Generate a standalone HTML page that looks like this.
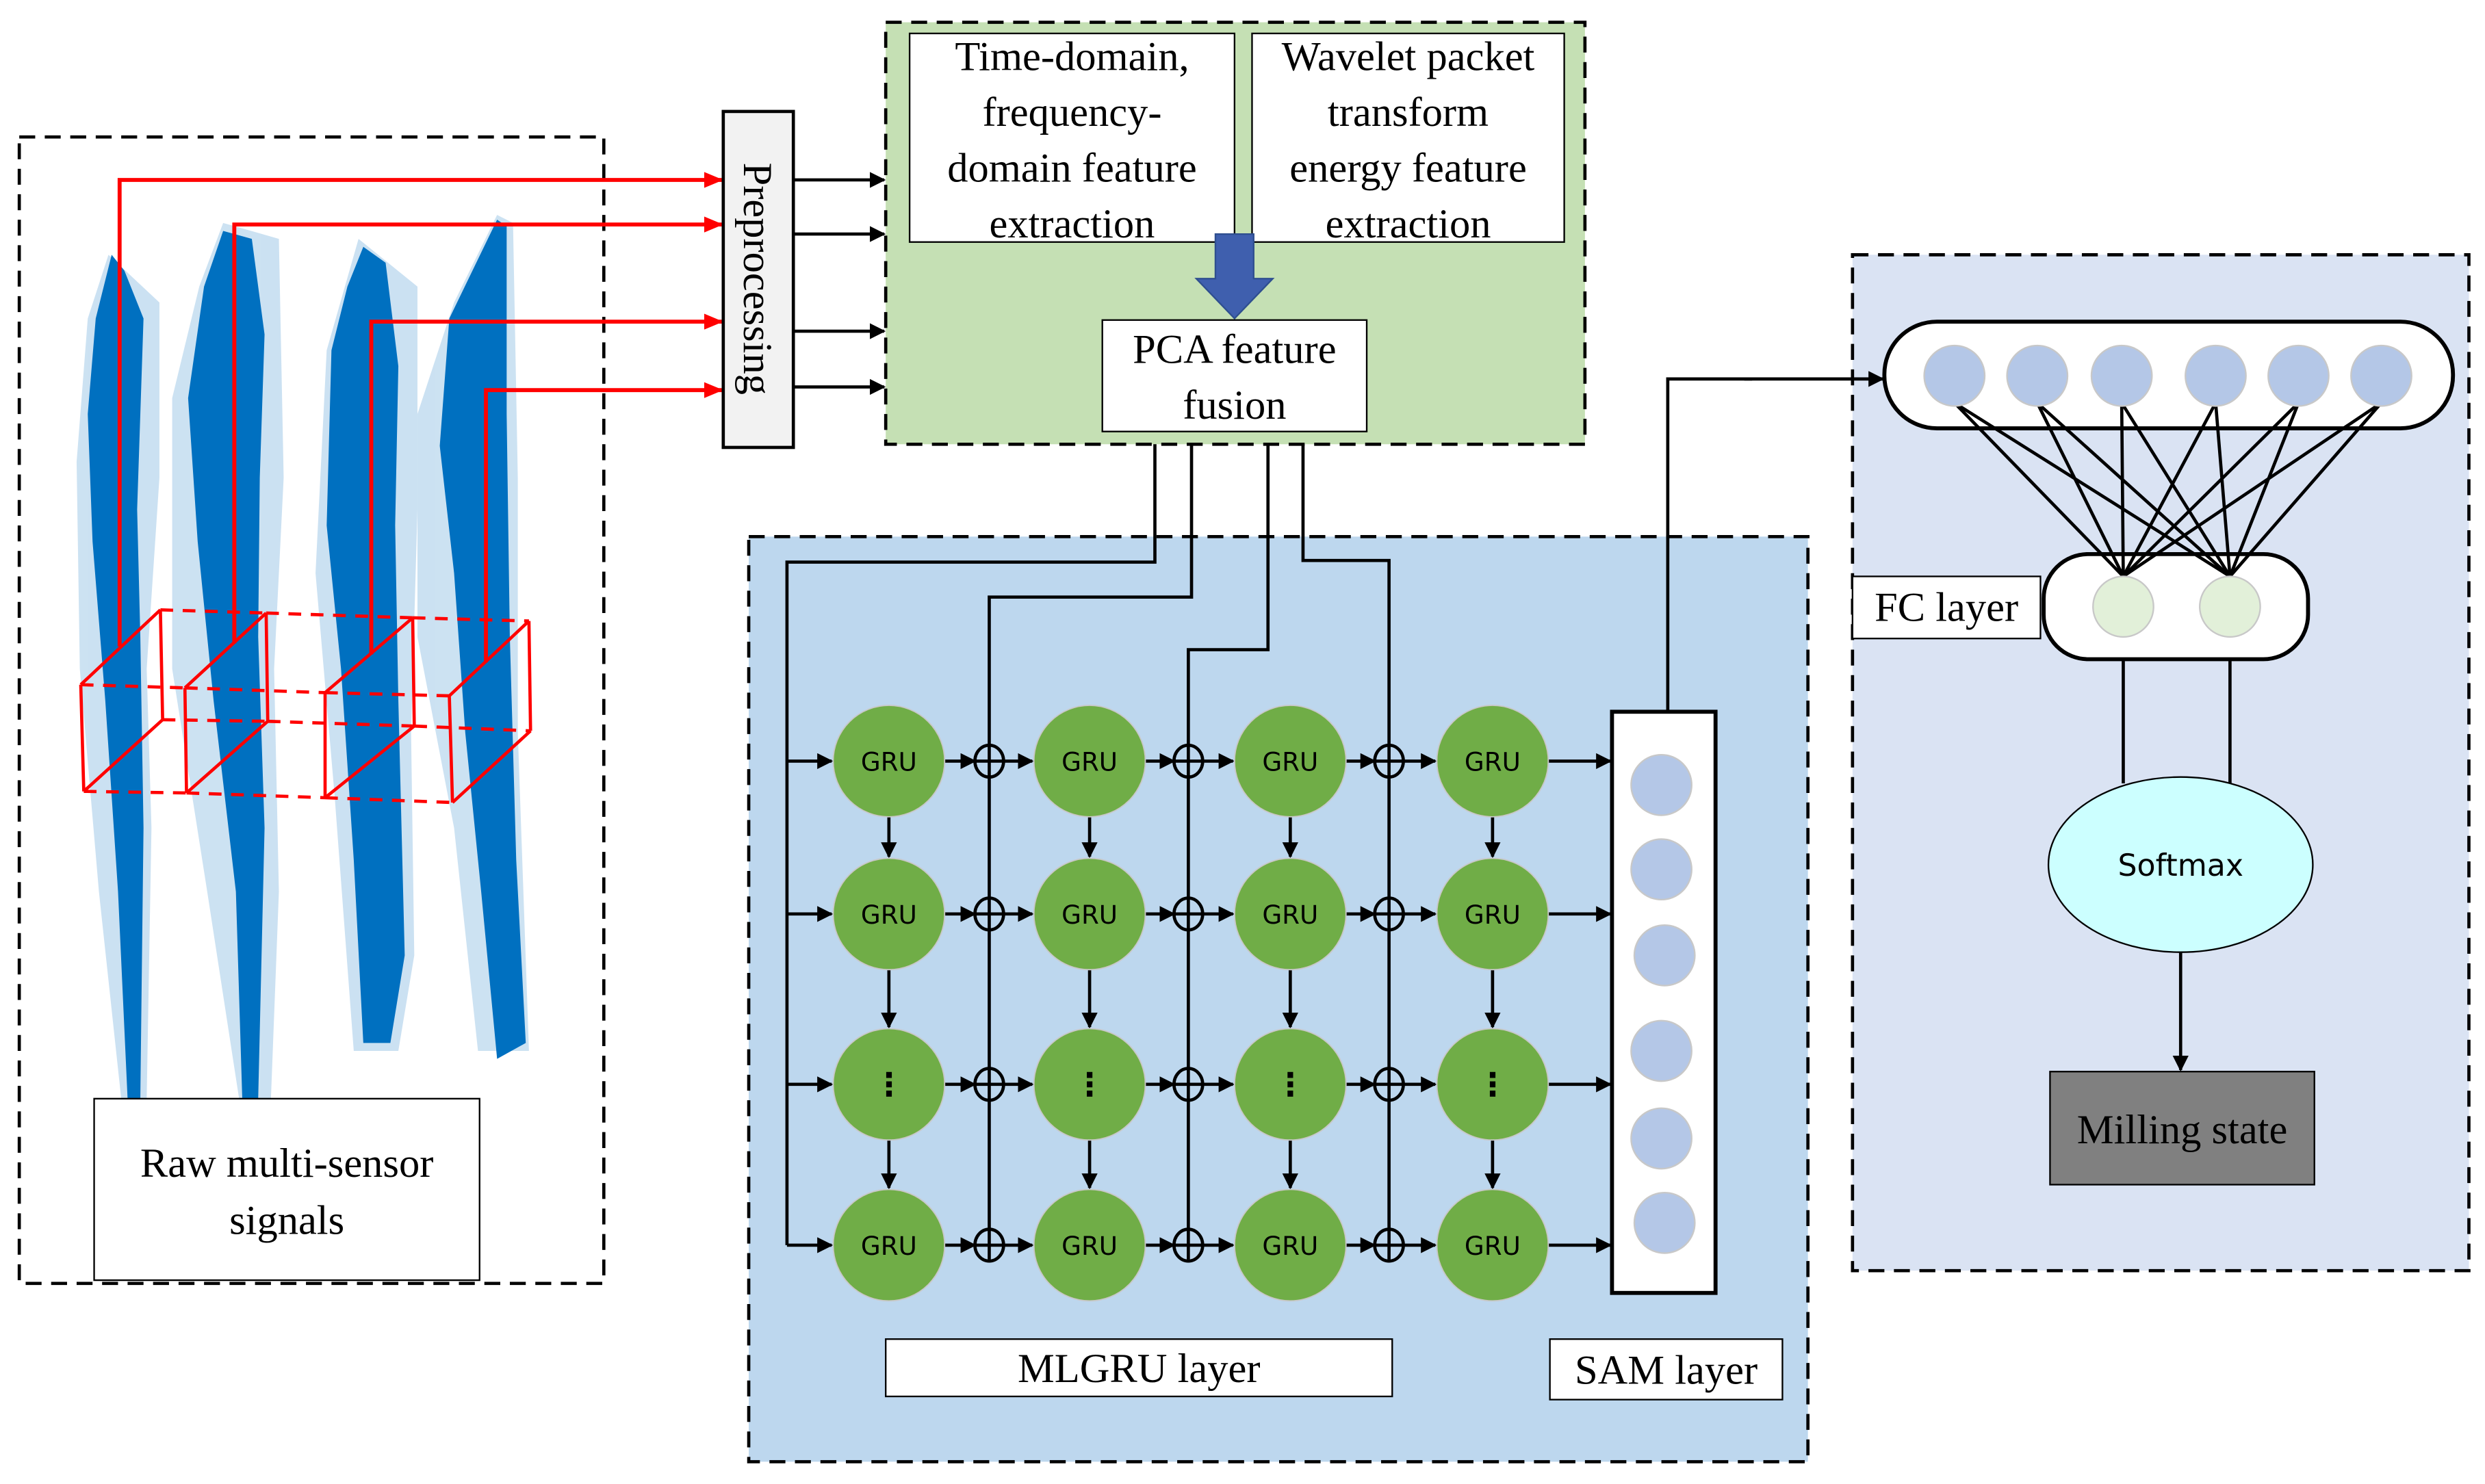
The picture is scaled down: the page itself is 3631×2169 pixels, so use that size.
<!DOCTYPE html>
<html><head><meta charset="utf-8"><style>
html,body{margin:0;padding:0;background:#fff;}
svg{display:block;}
.s{font-family:"Liberation Serif",serif;font-size:26px;fill:#000;}
.g{font-family:"DejaVu Sans",sans-serif;font-size:16px;fill:#000;}
</style></head><body>
<svg width="3631" height="2169" viewBox="0 0 1560 932" xmlns="http://www.w3.org/2000/svg">
<defs>
<marker id="ab" markerWidth="10" markerHeight="10" refX="9" refY="5" orient="auto" markerUnits="userSpaceOnUse"><path d="M0,0 L10,5 L0,10 z" fill="#000"/></marker>
<marker id="ar" markerWidth="12" markerHeight="10" refX="11" refY="5" orient="auto" markerUnits="userSpaceOnUse"><path d="M0,0 L12,5 L0,10 z" fill="#f00"/></marker>
</defs>
<rect width="1560" height="932" fill="#fff"/>
<rect x="12" y="86" width="367" height="720" fill="#fff" stroke="#000" stroke-width="2" stroke-dasharray="10,6"/>
<g fill="#0070c0" opacity="0.2">
<polygon points="68,160 100,190 100,300 92,420 95,520 92,690 76,690 62,560 50,420 48,290 55,200"/>
<polygon points="140,140 175,150 178,300 172,420 175,560 170,690 150,690 130,560 108,420 108,250 125,180"/>
<polygon points="225,150 262,180 262,320 258,460 260,600 250,660 222,660 210,500 198,360 205,220"/>
<polygon points="312,135 322,140 325,300 325,460 332,660 300,660 285,520 262,400 262,260 285,190"/>
</g>
<g fill="#0070c0">
<polygon points="70,160 78,170 90,200 88,260 86,320 88,400 90,520 88,690 80,690 74,560 66,440 58,340 55,260 60,200"/>
<polygon points="140,145 158,150 166,210 163,300 162,400 166,520 162,690 152,690 148,560 134,440 124,340 118,250 128,180"/>
<polygon points="228,155 242,165 250,230 248,330 250,440 254,600 245,655 228,655 222,540 214,420 205,330 208,220 218,180"/>
<polygon points="312,138 318,142 318,260 320,400 324,540 330,655 312,665 302,560 292,460 285,360 276,280 282,200"/>
</g>
<g stroke="#f00" stroke-width="2.5" fill="none">
<polyline points="75,406 75,113 453,113" marker-end="url(#ar)"/>
<polyline points="147,404 147,141 453,141" marker-end="url(#ar)"/>
<polyline points="233,411 233,202 453,202" marker-end="url(#ar)"/>
<polyline points="305,416 305,245 453,245" marker-end="url(#ar)"/>
</g>
<g stroke="#f00" stroke-width="2" fill="none">
<path d="M50.6,430 L52.5,497 M116,432 L117,498 M100.6,383 L102,452 M167,385 L168,453 M50.6,430 L100.6,383 M116,432 L167,385 M117,498 L168,453 M52.5,497 L102,452"/>
<path d="M204,435 L204,501 M282,437 L284,504 M259,388 L260,456 M332,390 L333,459 M204,435 L259,388 M282,437 L332,390 M284,504 L333,459 M204,501 L260,456"/>
<g stroke-dasharray="8,6">
<path d="M50.6,430 L116,432 M52.5,497 L117,498 M100.6,383 L167,385 M102,452 L168,453"/>
<path d="M116,432 L204,435 M117,498 L204,501 M167,385 L259,388 M168,453 L260,456"/>
<path d="M204,435 L282,437 M204,501 L284,504 M259,388 L332,390 M260,456 L333,459"/>
</g>
</g>
<rect x="59" y="690" width="242" height="114" fill="#fff" stroke="#000" stroke-width="1"/>
<text class="s" x="180" y="739" text-anchor="middle">Raw multi-sensor</text>
<text class="s" x="180" y="775" text-anchor="middle">signals</text>
<rect x="454" y="70" width="44" height="211" fill="#f2f2f2" stroke="#000" stroke-width="2"/>
<text class="s" transform="translate(476,175) rotate(90)" text-anchor="middle" dy="9">Preprocessing</text>
<g stroke="#000" stroke-width="2" marker-end="url(#ab)">
<line x1="498" y1="113" x2="555" y2="113"/>
<line x1="498" y1="147" x2="555" y2="147"/>
<line x1="498" y1="208" x2="555" y2="208"/>
<line x1="498" y1="243" x2="555" y2="243"/>
</g>
<rect x="556" y="14" width="439" height="265" fill="#c5e0b4" stroke="#000" stroke-width="2" stroke-dasharray="10,6"/>
<rect x="571" y="21" width="204" height="131" fill="#fff" stroke="#000" stroke-width="1"/>
<text class="s" x="673" y="44" text-anchor="middle">Time-domain,</text>
<text class="s" x="673" y="79" text-anchor="middle">frequency-</text>
<text class="s" x="673" y="114" text-anchor="middle">domain feature</text>
<text class="s" x="673" y="149" text-anchor="middle">extraction</text>
<rect x="786" y="21" width="196" height="131" fill="#fff" stroke="#000" stroke-width="1"/>
<text class="s" x="884" y="44" text-anchor="middle">Wavelet packet</text>
<text class="s" x="884" y="79" text-anchor="middle">transform</text>
<text class="s" x="884" y="114" text-anchor="middle">energy feature</text>
<text class="s" x="884" y="149" text-anchor="middle">extraction</text>
<polygon points="763,147 787,147 787,175 799,175 775,200 751,175 763,175" fill="#3f5fae" stroke="#2f4f8f" stroke-width="1"/>
<rect x="692" y="201" width="166" height="70" fill="#fff" stroke="#000" stroke-width="1"/>
<text class="s" x="775" y="228" text-anchor="middle">PCA feature</text>
<text class="s" x="775" y="263" text-anchor="middle">fusion</text>
<rect x="470" y="337" width="665" height="581" fill="#bdd7ee" stroke="#000" stroke-width="2" stroke-dasharray="10,6"/>
<g stroke="#000" stroke-width="2" fill="none">
<polyline points="725,279 725,353 494,353 494,782"/>
<polyline points="748,279 748,375 621,375 621,791"/>
<polyline points="796,279 796,408 746,408 746,791"/>
<polyline points="818,279 818,352 872,352 872,791"/>
<polyline points="1047,447 1047,238 1100,238"/>
</g>
<g stroke="#000" stroke-width="2" marker-end="url(#ab)">
<line x1="494" y1="478" x2="522" y2="478"/><line x1="494" y1="574" x2="522" y2="574"/>
<line x1="494" y1="681" x2="522" y2="681"/><line x1="494" y1="782" x2="522" y2="782"/>
</g>
<g id="gru">
<g stroke="#000" stroke-width="2" marker-end="url(#ab)">
<line x1="593" y1="478" x2="612" y2="478"/><line x1="630" y1="478" x2="648" y2="478"/>
<line x1="719" y1="478" x2="737" y2="478"/><line x1="755" y1="478" x2="774" y2="478"/>
<line x1="845" y1="478" x2="863" y2="478"/><line x1="881" y1="478" x2="901" y2="478"/>
<line x1="972" y1="478" x2="1011" y2="478"/>
</g>
<g fill="none" stroke="#000" stroke-width="2">
<ellipse cx="621" cy="478" rx="9" ry="10"/><ellipse cx="746" cy="478" rx="9" ry="10"/><ellipse cx="872" cy="478" rx="9" ry="10"/>
<path d="M612,478 H630 M737,478 H755 M863,478 H881"/>
</g>
</g>
<use href="#gru" y="96"/><use href="#gru" y="203"/><use href="#gru" y="304"/>
<g stroke="#000" stroke-width="2" marker-end="url(#ab)">
<line x1="558" y1="513" x2="558" y2="538"/><line x1="558" y1="609" x2="558" y2="645"/><line x1="558" y1="716" x2="558" y2="746"/>
<line x1="684" y1="513" x2="684" y2="538"/><line x1="684" y1="609" x2="684" y2="645"/><line x1="684" y1="716" x2="684" y2="746"/>
<line x1="810" y1="513" x2="810" y2="538"/><line x1="810" y1="609" x2="810" y2="645"/><line x1="810" y1="716" x2="810" y2="746"/>
<line x1="937" y1="513" x2="937" y2="538"/><line x1="937" y1="609" x2="937" y2="645"/><line x1="937" y1="716" x2="937" y2="746"/>
</g>
<g fill="#70ad47" stroke="#c8c8c8" stroke-width="0.8">
<circle cx="558" cy="478" r="35"/><circle cx="684" cy="478" r="35"/><circle cx="810" cy="478" r="35"/><circle cx="937" cy="478" r="35"/>
<circle cx="558" cy="574" r="35"/><circle cx="684" cy="574" r="35"/><circle cx="810" cy="574" r="35"/><circle cx="937" cy="574" r="35"/>
<circle cx="558" cy="681" r="35"/><circle cx="684" cy="681" r="35"/><circle cx="810" cy="681" r="35"/><circle cx="937" cy="681" r="35"/>
<circle cx="558" cy="782" r="35"/><circle cx="684" cy="782" r="35"/><circle cx="810" cy="782" r="35"/><circle cx="937" cy="782" r="35"/>
</g>
<g class="g" text-anchor="middle">
<text x="558" y="484">GRU</text><text x="684" y="484">GRU</text><text x="810" y="484">GRU</text><text x="937" y="484">GRU</text>
<text x="558" y="580">GRU</text><text x="684" y="580">GRU</text><text x="810" y="580">GRU</text><text x="937" y="580">GRU</text>
<text x="558" y="688" style="font-size:20px;font-weight:bold">⋮</text><text x="684" y="688" style="font-size:20px;font-weight:bold">⋮</text><text x="810" y="688" style="font-size:20px;font-weight:bold">⋮</text><text x="937" y="688" style="font-size:20px;font-weight:bold">⋮</text>
<text x="558" y="788">GRU</text><text x="684" y="788">GRU</text><text x="810" y="788">GRU</text><text x="937" y="788">GRU</text>
</g>
<rect x="1012" y="447" width="65" height="365" fill="#fff" stroke="#000" stroke-width="2.5"/>
<g fill="#b4c7e7" stroke="#c8c8c8" stroke-width="1">
<circle cx="1043" cy="493" r="19"/><circle cx="1043" cy="546" r="19"/><circle cx="1045" cy="600" r="19"/>
<circle cx="1043" cy="660" r="19"/><circle cx="1043" cy="715" r="19"/><circle cx="1045" cy="768" r="19"/>
</g>
<rect x="556" y="841" width="318" height="36" fill="#fff" stroke="#000" stroke-width="1"/>
<text class="s" x="715" y="868" text-anchor="middle">MLGRU layer</text>
<rect x="973" y="841" width="146" height="38" fill="#fff" stroke="#000" stroke-width="1"/>
<text class="s" x="1046" y="869" text-anchor="middle">SAM layer</text>
<rect x="1163" y="160" width="387" height="638" fill="#dae3f3" stroke="#000" stroke-width="2" stroke-dasharray="10,6"/>
<line x1="1095" y1="238" x2="1182" y2="238" stroke="#000" stroke-width="2" marker-end="url(#ab)"/>
<rect x="1183" y="202" width="357" height="67" rx="33" fill="#fff" stroke="#000" stroke-width="2.5"/>
<rect x="1283" y="348" width="166" height="66" rx="28" fill="#fff" stroke="#000" stroke-width="2.5"/>
<g stroke="#000" stroke-width="2">
<line x1="1227" y1="253" x2="1333" y2="362"/><line x1="1227" y1="253" x2="1400" y2="362"/>
<line x1="1279" y1="253" x2="1333" y2="362"/><line x1="1279" y1="253" x2="1400" y2="362"/>
<line x1="1332" y1="253" x2="1333" y2="362"/><line x1="1332" y1="253" x2="1400" y2="362"/>
<line x1="1391" y1="253" x2="1333" y2="362"/><line x1="1391" y1="253" x2="1400" y2="362"/>
<line x1="1443" y1="253" x2="1333" y2="362"/><line x1="1443" y1="253" x2="1400" y2="362"/>
<line x1="1495" y1="253" x2="1333" y2="362"/><line x1="1495" y1="253" x2="1400" y2="362"/>
<line x1="1333" y1="414" x2="1333" y2="492"/><line x1="1400" y1="414" x2="1400" y2="492"/>
</g>
<g fill="#b4c7e7" stroke="#c8c8c8" stroke-width="1">
<circle cx="1227" cy="236" r="19"/><circle cx="1279" cy="236" r="19"/><circle cx="1332" cy="236" r="19"/>
<circle cx="1391" cy="236" r="19"/><circle cx="1443" cy="236" r="19"/><circle cx="1495" cy="236" r="19"/>
</g>
<g fill="#e2f0d9" stroke="#c8c8c8" stroke-width="1">
<circle cx="1333" cy="381" r="19"/><circle cx="1400" cy="381" r="19"/>
</g>
<rect x="1163" y="362" width="118" height="39" fill="#fff" stroke="#000" stroke-width="1"/>
<text class="s" x="1222" y="390" text-anchor="middle">FC layer</text>
<ellipse cx="1369" cy="543" rx="83" ry="55" fill="#ccffff" stroke="#000" stroke-width="1"/>
<text x="1369" y="550" text-anchor="middle" style="font-family:'DejaVu Sans',sans-serif;font-size:19px;">Softmax</text>
<line x1="1369" y1="598" x2="1369" y2="672" stroke="#000" stroke-width="2" marker-end="url(#ab)"/>
<rect x="1287" y="673" width="166" height="71" fill="#808080" stroke="#000" stroke-width="1"/>
<text class="s" x="1370" y="718" text-anchor="middle">Milling state</text>
</svg>
</body></html>
